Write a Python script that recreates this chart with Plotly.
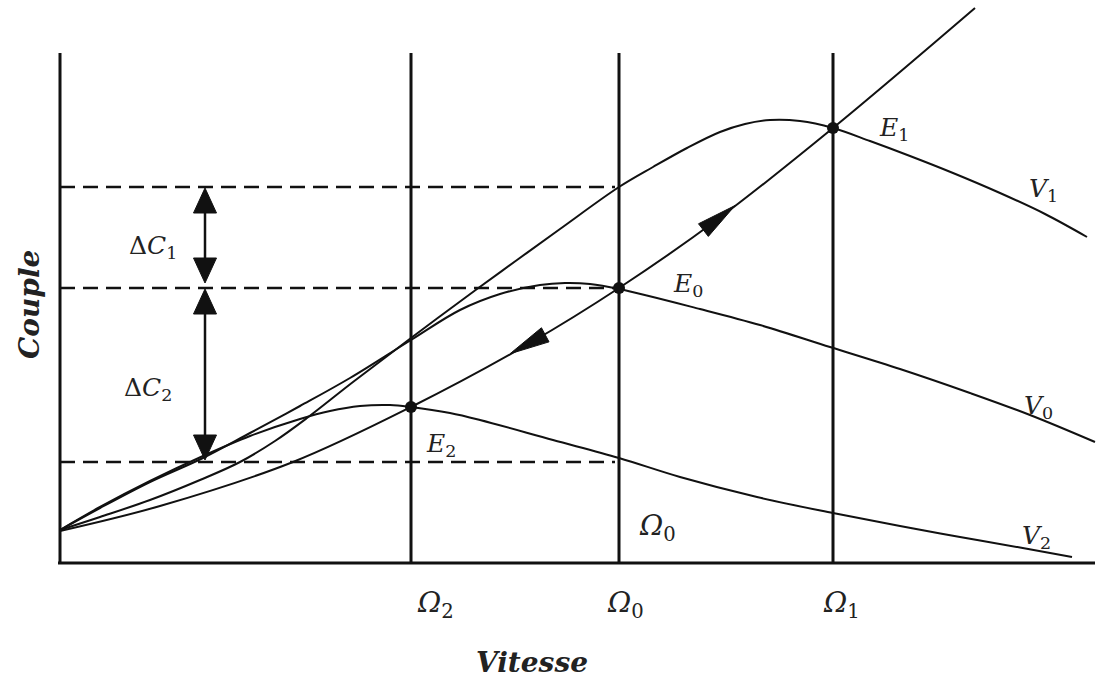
import numpy as np
import plotly.graph_objects as go

# Torque/speed characteristics (speed on x, torque on y, drawing units)
v1_x = [0, 40, 90, 140, 180, 215, 247, 293, 351, 417, 457, 500, 559, 593, 627, 660, 685,
        710, 740, 773, 810, 850, 893, 940, 985, 1027]
v1_y = [33, 46, 63, 83, 101, 122, 145, 181, 225, 274, 303, 334, 376, 396, 415, 431, 439,
        443, 442, 435, 422, 407, 390, 370, 349, 326]

v0_x = [0, 40, 90, 143, 190, 240, 290, 351, 400, 440, 480, 505, 530, 559, 640, 700, 770,
        840, 910, 970, 1035]
v0_y = [33, 55, 81, 105, 130, 157, 185, 223, 253, 269, 278, 280, 279, 274, 254, 238, 216,
        194, 170, 148, 121]

v2_x = [0, 40, 90, 143, 190, 240, 270, 300, 330, 351, 390, 420, 493, 559, 620, 697, 773,
        840, 900, 960, 1012]
v2_y = [33, 56, 82, 107, 127, 144, 152, 157, 158, 156, 150, 143, 123, 105, 86, 66, 50,
        37, 26, 15.5, 6]

# Load torque curve
load_x = [0, 100, 233, 351, 470, 559, 658, 773, 915]
load_y = [32, 57, 101, 156, 220, 275, 344, 435, 555]

# Operating speeds and torque levels
omega_names = ["Ω<sub>2</sub>", "Ω<sub>0</sub>", "Ω<sub>1</sub>"]
omega_vals = [351, 559, 773]
torque_levels = [376, 275, 101]       # C1, C0, C2
eq_names = ["E<sub>2</sub>", "E<sub>0</sub>", "E<sub>1</sub>"]
eq_x = [351, 559, 773]
eq_y = [156, 275, 435]

AXIS_TOP = 510
X_END = 1035
DASH_END = 555
DELTA_X = 145
LOAD_ARROW_TIPS = [675, 450]   # first points up the load curve, second down

BLACK = "#111111"
TEXT = "#222222"
MATH_FONT = dict(family="DejaVu Serif", size=25, color=TEXT)
OMEGA_FONT = dict(family="DejaVu Serif", size=28, color=TEXT)
TITLE_FONT = dict(family="DejaVu Serif", size=28, color=TEXT)

fig = go.Figure()


def line(x, y, width=2, dash=None, shape="linear", smoothing=1.0):
    fig.add_trace(go.Scatter(
        x=x, y=y, mode="lines", hoverinfo="skip", showlegend=False,
        line=dict(color=BLACK, width=width, dash=dash, shape=shape,
                  smoothing=smoothing)))


def head(tip_x, tip_y, dx, dy, length, width):
    n = np.hypot(dx, dy)
    ux, uy = dx / n, dy / n
    bx, by = tip_x - ux * length, tip_y - uy * length
    px, py = -uy * width / 2, ux * width / 2
    fig.add_trace(go.Scatter(
        x=[tip_x, bx + px, bx - px, tip_x], y=[tip_y, by + py, by - py, tip_y],
        mode="lines", fill="toself", fillcolor=BLACK, hoverinfo="skip",
        showlegend=False, line=dict(color=BLACK, width=1)))


# Axes
line([0, 0], [0, AXIS_TOP], width=3)
line([-2, X_END], [0, 0], width=3)

# Vertical speed markers
for w in omega_vals:
    line([w, w], [0, AXIS_TOP], width=3)

# Dashed torque levels
for c in torque_levels:
    line([0, DASH_END], [c, c], width=2.5, dash="15px,8px")

# Characteristic curves and load curve
for xs, ys in [(v1_x, v1_y), (v0_x, v0_y), (v2_x, v2_y), (load_x, load_y)]:
    line(xs, ys, width=2, shape="spline", smoothing=1.0)

# ΔC double arrows
c1, c0, c2 = torque_levels
line([DELTA_X, DELTA_X], [c1 - 10, c0 + 10], width=2.5)
line([DELTA_X, DELTA_X], [c0 - 10, c2 + 10], width=2.5)
head(DELTA_X, c1 - 1, 0, 1, 25, 23)
head(DELTA_X, c0 + 5, 0, -1, 25, 23)
head(DELTA_X, c0 - 1, 0, 1, 25, 23)
head(DELTA_X, c2 + 2, 0, -1, 25, 23)

# Direction arrows along the load curve
for i, tx in enumerate(LOAD_ARROW_TIPS):
    ty = float(np.interp(tx, load_x, load_y))
    sx = 1 if i == 0 else -1
    ax_ = tx - sx * 20
    ay_ = float(np.interp(ax_, load_x, load_y))
    head(tx, ty, tx - ax_, ty - ay_, 40, 16)

# Equilibrium points
fig.add_trace(go.Scatter(
    x=eq_x, y=eq_y, mode="markers", hoverinfo="skip", showlegend=False,
    marker=dict(color=BLACK, size=12)))

annotations = []


def label(x, y, text, font=MATH_FONT, angle=0):
    annotations.append(dict(x=x, y=y, xref="x", yref="y", text=text,
                            showarrow=False, font=font, textangle=angle,
                            xanchor="center", yanchor="middle"))


def italic(name):
    return "<i>" + name.replace("<sub>", "</i><sub>")


label(834, 434, italic(eq_names[2]))
label(628, 278, italic(eq_names[1]))
label(381, 118, italic(eq_names[0]))
label(983, 373, "<i>V</i><sub>1</sub>")
label(978, 156, "<i>V</i><sub>0</sub>")
label(976, 26, "<i>V</i><sub>2</sub>")
label(597, 36, "<i>Ω</i><sub>0</sub>", font=OMEGA_FONT)
label(93, 316, "Δ<i>C</i><sub>1</sub>")
label(88, 174, "Δ<i>C</i><sub>2</sub>")
for name, w in zip(omega_names, [375, 565, 781]):
    label(w, -41, italic(name), font=OMEGA_FONT)
label(472, -99, "<b><i>Vitesse</i></b>", font=TITLE_FONT)
label(-31, 258, "<b><i>Couple</i></b>", font=TITLE_FONT, angle=-90)

fig.update_layout(
    width=1106, height=680,
    margin=dict(l=0, r=0, t=0, b=0),
    paper_bgcolor="white", plot_bgcolor="white",
    xaxis=dict(range=[-60, 1046], visible=False, fixedrange=True),
    yaxis=dict(range=[-117, 563], visible=False, fixedrange=True),
    annotations=annotations,
)

fig.write_html("out.html")
